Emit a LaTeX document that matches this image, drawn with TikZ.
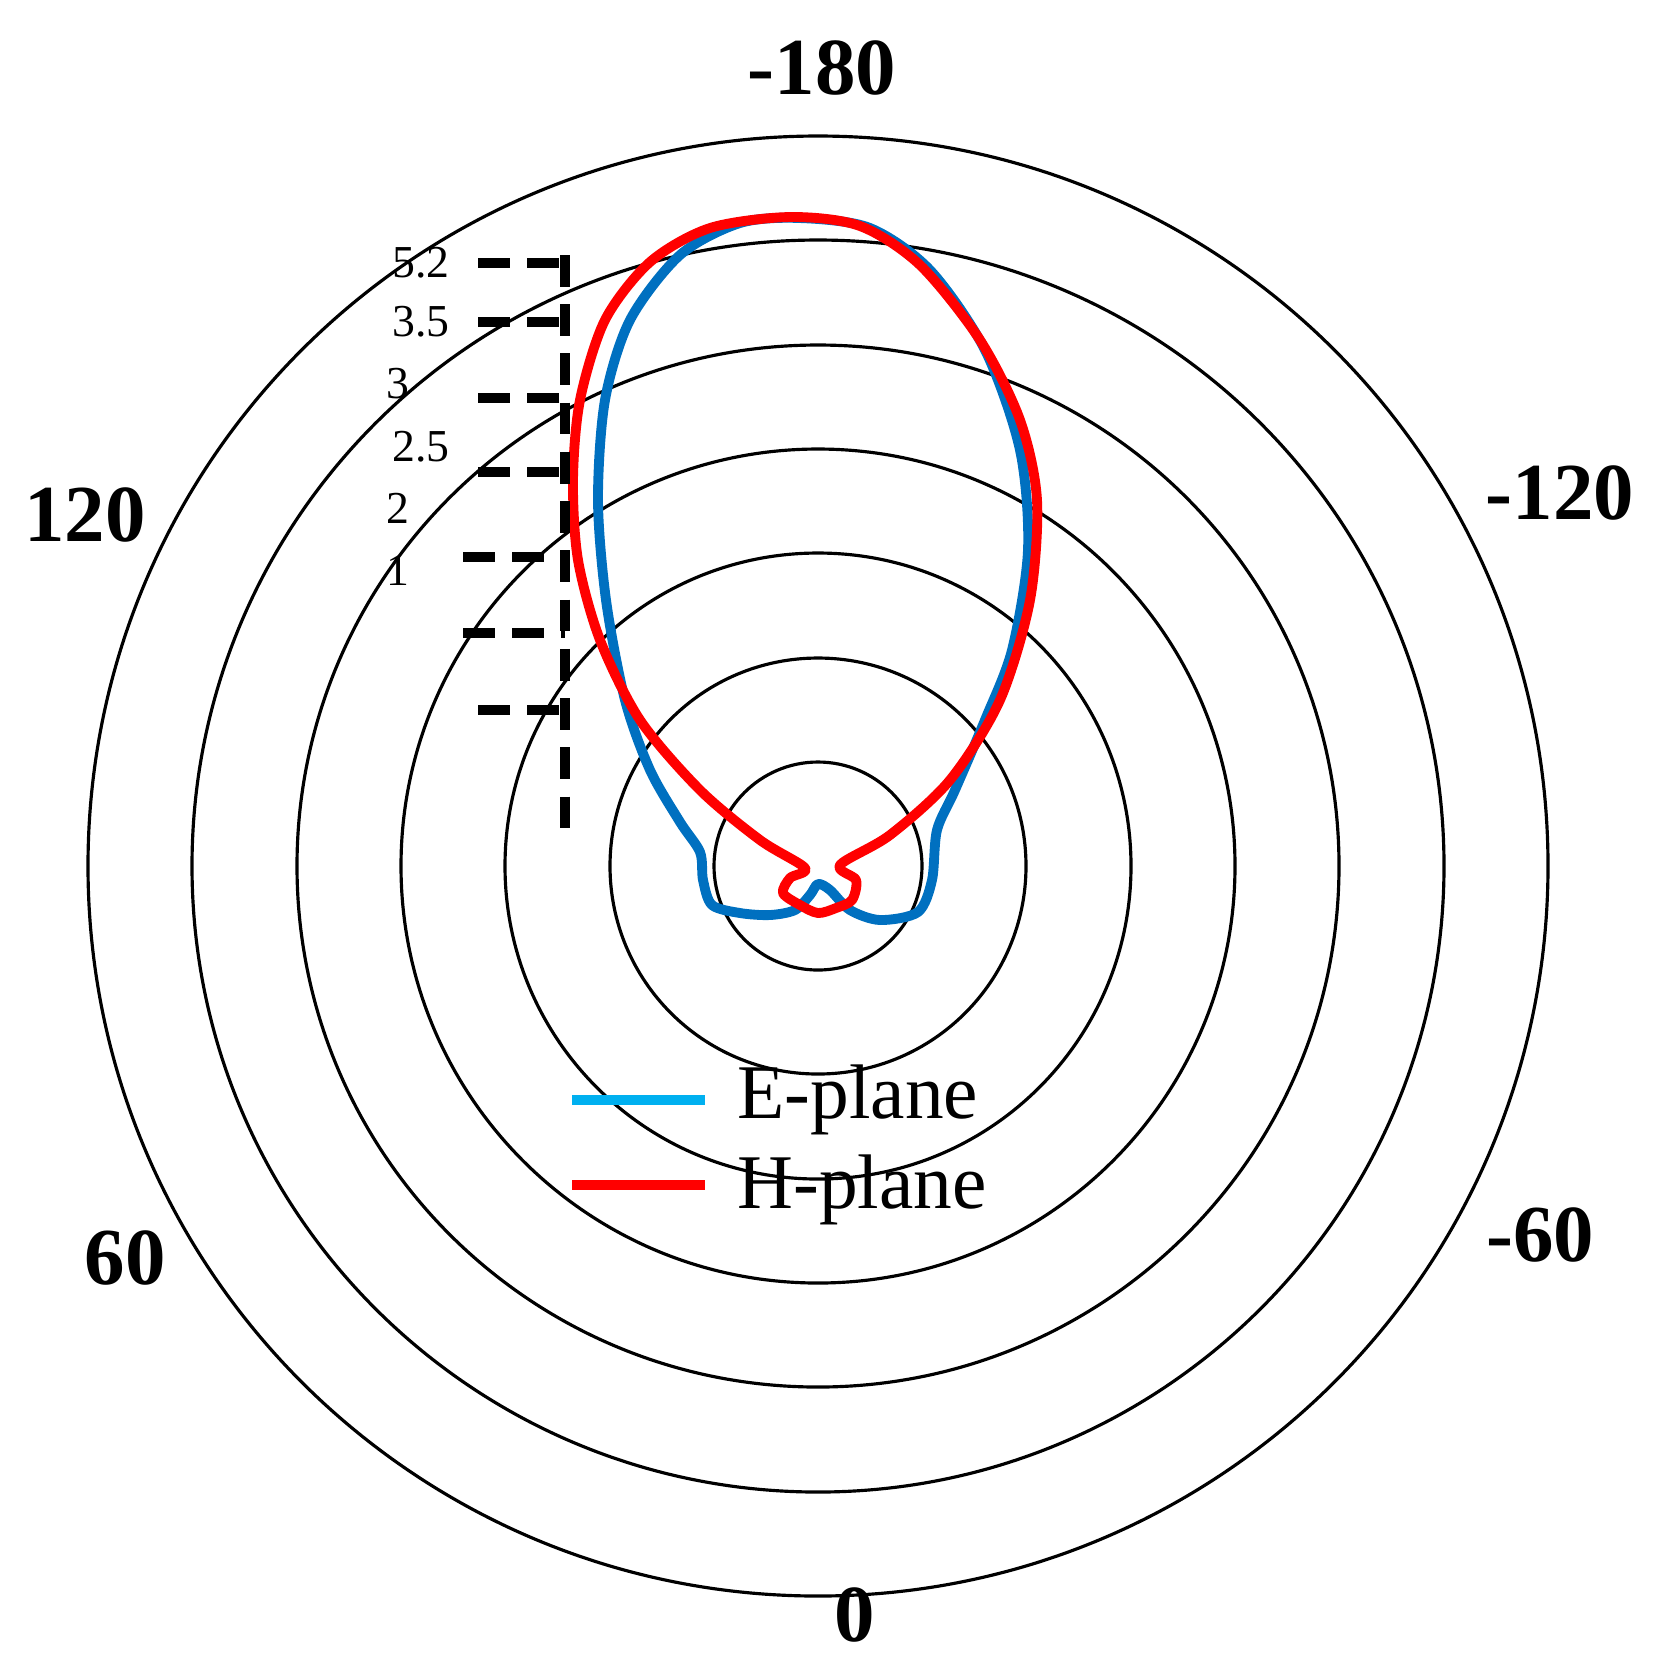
\documentclass[tikz,border=0pt]{standalone}
\usepackage{fontspec}
\setmainfont{Liberation Serif}
\begin{document}
\begin{tikzpicture}[x=0.01cm,y=-0.01cm,
  ring/.style={line width=0.9pt},
  lobe/.style={line width=2.8pt,line join=round},
  stair/.style={line width=2.8pt,dash pattern=on 9pt off 5pt},
  tick/.style={line width=2.8pt},
  ang/.style={font=\fontsize{23}{26}\selectfont\bfseries},
  lev/.style={font=\fontsize{13}{15}\selectfont,anchor=east},
  leg/.style={font=\fontsize{22}{26}\selectfont,anchor=west}]
\useasboundingbox (0,0) rectangle (1661,1659);
\definecolor{eblue}{RGB}{0,112,192}
\definecolor{ecyan}{RGB}{0,176,240}
\coordinate (c) at (818,866);
\foreach \r in {104,208,313,417,521,626,730} \draw[ring] (c) circle (\r);
% E-plane
\draw[lobe,eblue] plot[smooth cycle,tension=0.5] coordinates{
(740,913)(712,905)(703,880)(700,852)(680,822)(650,770)(625,700)(606,600)(598,500)(605,400)(630,320)(680,255)(740,223)(800,218)(870,228)(930,270)(985,350)(1020,450)(1028,550)(1012,650)(985,720)(955,790)(937,830)(932,880)(918,912)(880,920)(850,910)(830,890)(818,884)(810,895)(795,910)(770,915)};
% H-plane
\draw[lobe,red] plot[smooth cycle,tension=0.5] coordinates{
(818,913)(800,905)(783,893)(790,878)(805,868)(760,840)(700,790)(640,720)(600,640)(578,560)(573,480)(580,400)(605,320)(650,262)(710,228)(790,217)(860,226)(920,265)(980,340)(1020,420)(1037,500)(1030,600)(1000,700)(950,780)(890,835)(840,865)(856,880)(852,900)(836,908)};
% staircase
\draw[stair] (565,255) -- (565,830);
\foreach \y/\a in {263/478,322/478,398/478,472/478,557/463,633/463,710/478}
  \draw[stair] (\a,\y) -- (565,\y);
\node[lev] (l1) at (462,263) {5.2};
\node[lev] (l2) at (462,322) {3.5};
\node[lev] (l3) at (422,384) {3};
\node[lev] (l4) at (462,447) {2.5};
\node[lev] (l5) at (422,508) {2};
\node[lev] (l6) at (422,570) {1};
% angle labels
\node[ang] (a1) at (822,68) {-180};
\node[ang] (a2) at (85,515) {120};
\node[ang] (a3) at (1560,493) {-120};
\node[ang] (a4) at (125,1258) {60};
\node[ang] (a5) at (1540,1235) {-60};
\node[ang] (a6) at (855,1615) {0};
% legend
\coordinate (e1) at (572,1100); \coordinate (e2) at (705,1100);
\draw[tick,ecyan] (e1) -- (e2);
\node[leg] (et) at (725,1100) {E-plane};
\coordinate (h1) at (572,1185); \coordinate (h2) at (705,1185);
\draw[tick,red] (h1) -- (h2);
\node[leg] (ht) at (725,1190) {H-plane};
\end{tikzpicture}
\end{document}
